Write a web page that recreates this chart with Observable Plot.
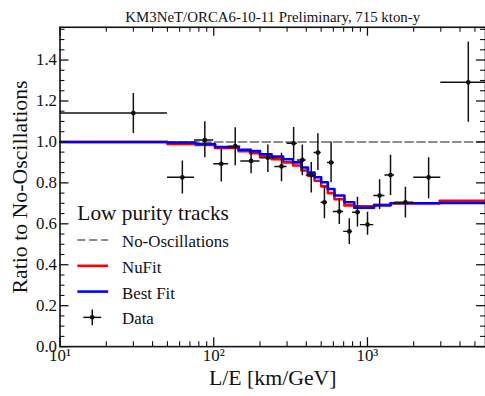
<!DOCTYPE html>
<html>
<head>
<meta charset="utf-8">
<script src="https://cdn.jsdelivr.net/npm/d3@7"></script>
<script src="https://cdn.jsdelivr.net/npm/@observablehq/plot@0.6"></script>
<style>
  html, body { margin: 0; padding: 0; background: white; }
  #wrap { width: 485px; height: 396px; overflow: hidden; }
</style>
</head>
<body>
<div id="wrap"></div>
<script>
// ---- Data ----
const titleText = "KM3NeT/ORCA6-10-11 Preliminary, 715 kton-y";
const xLabel = "L/E [km/GeV]";
const yLabel = "Ratio to No-Oscillations";
const legendTitle = "Low purity tracks";
const legendNames = ["No-Oscillations", "NuFit", "Best Fit", "Data"];

const xTicks = [10, 100, 1000];
const xTickLabels = ["10\u00b9", "10\u00b2", "10\u00b3"];
const yTicks = [0, 0.2, 0.4, 0.6, 0.8, 1.0, 1.2, 1.4];

// Data points (L/E centre, bin low/high, ratio, error low/high)
const dataX   = [30, 62.5, 87.5, 112, 138, 175, 225, 276, 331, 377, 431, 476, 525, 580, 656, 762, 861, 1001, 1200, 1413, 1766, 2500, 4530];
const dataXLo = [10, 50, 75, 100, 125, 150, 200, 250, 300, 350, 400, 450, 500, 550, 600, 700, 800, 900, 1100, 1300, 1500, 2000, 3000];
const dataXHi = [50, 75, 100, 125, 150, 200, 250, 300, 350, 400, 460, 500, 550, 610, 700, 800, 900, 1100, 1300, 1500, 2000, 3000, 6000];
const dataY   = [1.141, 0.827, 1.009, 0.893, 0.979, 0.907, 0.923, 0.880, 0.993, 0.912, 0.838, 0.948, 0.705, 0.899, 0.660, 0.563, 0.657, 0.596, 0.738, 0.838, 0.705, 0.827, 1.291];
const dataYLo = [1.041, 0.746, 0.923, 0.804, 0.883, 0.845, 0.851, 0.805, 0.915, 0.835, 0.750, 0.860, 0.625, 0.800, 0.596, 0.499, 0.585, 0.544, 0.670, 0.738, 0.628, 0.722, 1.096];
const dataYHi = [1.237, 0.907, 1.098, 0.964, 1.069, 0.965, 0.985, 0.945, 1.070, 0.985, 0.900, 1.040, 0.778, 1.000, 0.722, 0.625, 0.730, 0.657, 0.815, 0.935, 0.778, 0.923, 1.488];

// Model step histograms
const modelEdges = [10, 50, 76, 102, 145, 172, 200, 238, 283, 328, 372, 410, 453, 500, 552, 610, 708, 821, 1104, 1413, 2950, 10000];
const bestFit = [1.0, 0.997, 0.99, 0.975, 0.962, 0.955, 0.94, 0.928, 0.915, 0.90, 0.875, 0.851, 0.827, 0.803, 0.77, 0.738, 0.705, 0.678, 0.689, 0.70, 0.702];
const nuFit   = [1.0, 0.99, 0.985, 0.97, 0.955, 0.945, 0.928, 0.915, 0.90, 0.885, 0.86, 0.835, 0.81, 0.783, 0.75, 0.72, 0.69, 0.685, 0.693, 0.70, 0.713];
const noOscX = [10, 10000];
const noOscY = [1.0, 1.0];

// ---- Build tables ----
const points = dataX.map((x, i) => ({x, xlo: dataXLo[i], xhi: dataXHi[i], y: dataY[i], ylo: dataYLo[i], yhi: dataYHi[i]}));
function steps(vals) {
  const s = vals.map((v, i) => ({x: modelEdges[i], y: v}));
  s.push({x: modelEdges[modelEdges.length - 1], y: vals[vals.length - 1]});
  return s;
}
const bestSteps = steps(bestFit);
const nuSteps = steps(nuFit);
const noOsc = noOscX.map((x, i) => ({x, y: noOscY[i]}));

const xMinor = [];
for (const d of [10, 100, 1000]) for (let k = 2; k <= 9; k++) if (d * k < 5860) xMinor.push(d * k);
const yMinor = d3.range(0, 1.56, 0.05).filter(v => Math.abs(v / 0.2 - Math.round(v / 0.2)) > 1e-6);

const W = 489, H = 396, mL = 60, mR = 0, mT = 27, mB = 47;
const innerH = H - mT - mB, innerW = W - mL - mR;
const font = "Liberation Serif";
const ink = "#111";
const dash = "8,4";

const chart = Plot.plot({
  width: W, height: H,
  marginLeft: mL, marginRight: mR, marginTop: mT, marginBottom: mB,
  x: {type: "log", domain: [10, 5860]},
  y: {domain: [0, 1.56]},
  style: {fontFamily: font, fontSize: "17px", color: ink, background: "white"},
  marks: [
    // no-oscillation dashed line
    Plot.line(noOsc, {x: "x", y: "y", stroke: "#8c8c8c", strokeWidth: 2, strokeDasharray: dash, clip: true}),
    // model steps
    Plot.line(nuSteps, {x: "x", y: "y", curve: "step-after", stroke: "#ff0000", strokeWidth: 2.6, clip: true}),
    Plot.line(bestSteps, {x: "x", y: "y", curve: "step-after", stroke: "#0000ff", strokeWidth: 2.6, clip: true}),
    // data
    Plot.ruleY(points, {y: "y", x1: "xlo", x2: "xhi", stroke: ink, strokeWidth: 1.5, clip: true}),
    Plot.ruleX(points, {x: "x", y1: "ylo", y2: "yhi", stroke: ink, strokeWidth: 1.5, clip: true}),
    Plot.dot(points, {x: "x", y: "y", r: 2.4, fill: ink, stroke: null, clip: true}),
    // inward ticks
    Plot.tickX(xTicks, {x: d => d, insetTop: innerH - 9, stroke: ink, strokeWidth: 1.3}),
    Plot.tickX(xTicks, {x: d => d, insetBottom: innerH - 9, stroke: ink, strokeWidth: 1.3}),
    Plot.tickX(xMinor, {x: d => d, insetTop: innerH - 5, stroke: ink, strokeWidth: 1.1}),
    Plot.tickX(xMinor, {x: d => d, insetBottom: innerH - 5, stroke: ink, strokeWidth: 1.1}),
    Plot.tickY(yTicks, {y: d => d, insetRight: innerW - 9, stroke: ink, strokeWidth: 1.3}),
    Plot.tickY(yTicks, {y: d => d, insetLeft: innerW - 9, stroke: ink, strokeWidth: 1.3}),
    Plot.tickY(yMinor, {y: d => d, insetRight: innerW - 5, stroke: ink, strokeWidth: 1.1}),
    Plot.tickY(yMinor, {y: d => d, insetLeft: innerW - 5, stroke: ink, strokeWidth: 1.1}),
    Plot.frame({stroke: ink, strokeWidth: 1.6}),
    // tick labels
    Plot.axisX({ticks: xTicks, tickSize: 0, tickPadding: 2, tickFormat: d => xTickLabels[xTicks.indexOf(d)], fontSize: 17, label: null}),
    Plot.axisY({ticks: yTicks, tickSize: 0, tickPadding: 3, tickFormat: d3.format(".1f"), fontSize: 17, label: null}),
    // axis titles and title
    Plot.text([xLabel], {text: d => d, frameAnchor: "bottom", dy: 39, textAnchor: "middle", lineAnchor: "bottom", fontSize: 22, fill: ink}),
    Plot.text([yLabel], {text: d => d, frameAnchor: "left", dx: -40, textAnchor: "middle", lineAnchor: "middle", rotate: -90, fontSize: 22, fill: ink}),
    Plot.text([titleText], {text: d => d, frameAnchor: "top", dy: -5, textAnchor: "middle", lineAnchor: "bottom", fontSize: 15, fill: ink})
  ]
});
document.getElementById("wrap").appendChild(chart);

// ---- Legend (inside plot area) ----
const svg = d3.select(chart);
const g = svg.append("g").attr("font-family", font).attr("fill", ink).attr("text-anchor", "start");
g.append("text").attr("x", 78).attr("y", 222).attr("font-size", 21.5).text(legendTitle);
const rows = [
  {y: 242, kind: "dash", color: "#8c8c8c"},
  {y: 268, kind: "line", color: "#ff0000"},
  {y: 294, kind: "line", color: "#0000ff"},
  {y: 320, kind: "data", color: ink}
];
rows.forEach((r, i) => {
  if (r.kind === "data") {
    g.append("line").attr("x1", 84).attr("x2", 102).attr("y1", r.y).attr("y2", r.y).attr("stroke", ink).attr("stroke-width", 1.5);
    g.append("line").attr("x1", 93).attr("x2", 93).attr("y1", r.y - 8).attr("y2", r.y + 8).attr("stroke", ink).attr("stroke-width", 1.5);
    g.append("circle").attr("cx", 93).attr("cy", r.y).attr("r", 2.4).attr("fill", ink);
  } else {
    const l = g.append("line").attr("x1", 78).attr("x2", 109).attr("y1", r.y).attr("y2", r.y)
      .attr("stroke", r.color).attr("stroke-width", r.kind === "dash" ? 2 : 2.6);
    if (r.kind === "dash") l.attr("stroke-dasharray", dash);
  }
  g.append("text").attr("x", 123).attr("y", r.y + 7).attr("font-size", 17).attr("text-anchor", "start").text(legendNames[i]);
});
</script>
</body>
</html>
